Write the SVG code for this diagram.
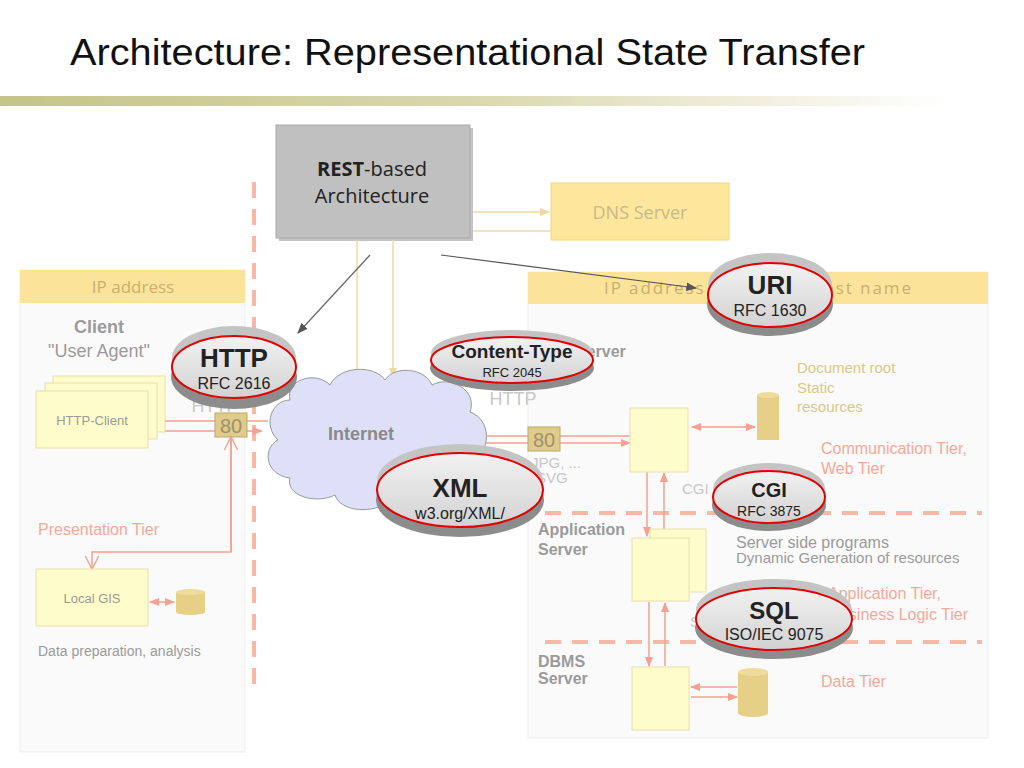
<svg xmlns="http://www.w3.org/2000/svg" width="1024" height="768" viewBox="0 0 1024 768">
<defs>
<linearGradient id="bar" x1="0" x2="1"><stop offset="0" stop-color="#c5c487"/><stop offset="0.5" stop-color="#d9d8ae"/><stop offset="1" stop-color="#ffffff"/></linearGradient>
<linearGradient id="badge" x1="0" y1="0" x2="0" y2="1"><stop offset="0" stop-color="#f2f2f2"/><stop offset="1" stop-color="#d2d2d2"/></linearGradient>
<marker id="ar" viewBox="0 0 10 10" refX="9" refY="5" markerWidth="7" markerHeight="7" orient="auto-start-reverse"><path d="M0,1 L10,5 L0,9 z" fill="#f5a090"/></marker>
<marker id="ao" viewBox="0 0 10 10" refX="9" refY="5" markerWidth="9" markerHeight="9" orient="auto"><path d="M0,0 L10,5 L0,10" fill="none" stroke="#f5a090" stroke-width="1"/></marker>
<marker id="ay" viewBox="0 0 10 10" refX="9" refY="5" markerWidth="7" markerHeight="7" orient="auto"><path d="M0,1 L10,5 L0,9 z" fill="#f0d8a0"/></marker>
<marker id="ag" viewBox="0 0 10 10" refX="9" refY="5" markerWidth="9" markerHeight="9" orient="auto"><path d="M0,1 L10,5 L0,9 z" fill="#555"/></marker>
</defs>
<style>
text{font-family:"Liberation Sans",Arial,sans-serif}
.g{fill:#9a9a9a}
.lg{fill:#c8c8c8}
.tier{fill:#f5a898;font-size:16px}
.box{fill:#fffccc;stroke:#e6e0a8;stroke-width:1}
.cyl{fill:#e6d088}
.pl{stroke:#f5a090;stroke-width:1.5;fill:none}
.yl{stroke:#f0d8a8;stroke-width:1.5;fill:none}
.dash{stroke:#f9b8a6;stroke-width:4;stroke-dasharray:16 11;fill:none}
.hd{fill:#fbe49a}
.hdt{fill:#c8b070;font-size:17px;font-family:"Open Sans",sans-serif}
.b1{fill:#8c8c8c}
.b2{fill:#c4c4c4}
.b3{fill:url(#badge);stroke:#e00000;stroke-width:2}
.bt{fill:#222;font-weight:bold;text-anchor:middle}
.bs{fill:#222;text-anchor:middle}
</style>
<rect width="1024" height="768" fill="#fff"/>
<text x="70" y="65" font-size="36" fill="#111" textLength="795" lengthAdjust="spacingAndGlyphs">Architecture: Representational State Transfer</text>
<rect x="0" y="96" width="950" height="10" fill="url(#bar)"/>

<g id="panels">
<rect x="20" y="270" width="225" height="482" fill="#fafafa" stroke="#eeeeee"/>
<rect x="20" y="270" width="225" height="33" class="hd"/>
<text x="133" y="293" text-anchor="middle" class="hdt">IP address</text>
<rect x="528" y="272" width="460" height="466" fill="#fafafa" stroke="#eeeeee"/>
<rect x="528" y="272" width="460" height="32" class="hd"/>
<text x="604" y="294" class="hdt" textLength="307" lengthAdjust="spacing">IP address / Server / Host name</text>
</g>

<line x1="254" y1="182" x2="254" y2="690" class="dash"/>
<line x1="545" y1="513" x2="982" y2="513" class="dash" stroke-width="3"/>
<line x1="545" y1="642" x2="982" y2="642" class="dash" stroke-width="3"/>

<g id="rest">
<rect x="279" y="128" width="194" height="113" fill="#888" opacity="0.5"/>
<rect x="276" y="125" width="194" height="113" fill="#c0c0c0" stroke="#aaa"/>
<text x="372" y="176" text-anchor="middle" font-size="20" fill="#222" style="font-family:'Open Sans',sans-serif"><tspan font-weight="bold">REST</tspan>-based</text>
<text x="372" y="203" text-anchor="middle" font-size="20" fill="#222" style="font-family:'Open Sans',sans-serif">Architecture</text>
</g>
<g id="dns">
<rect x="551" y="183" width="178" height="57" fill="#fce79c" stroke="#f3d67c"/>
<text x="640" y="219" text-anchor="middle" font-size="18" fill="#c8b98a" style="font-family:'Open Sans',sans-serif">DNS Server</text>
</g>

<g id="connectors">
<line x1="473" y1="212" x2="549" y2="212" class="yl" marker-end="url(#ay)"/>
<line x1="473" y1="231" x2="551" y2="231" class="yl"/>
<line x1="357" y1="240" x2="357" y2="385" class="yl"/>
<line x1="393" y1="240" x2="393" y2="377" class="yl" marker-end="url(#ay)"/>
<line x1="370" y1="255" x2="298" y2="333" stroke="#666" stroke-width="1.2" marker-end="url(#ag)"/>
<line x1="441" y1="255" x2="696" y2="288" stroke="#555" stroke-width="1.2" marker-end="url(#ag)"/>
<line x1="268" y1="421" x2="150" y2="421" class="pl" marker-end="url(#ar)"/>
<line x1="150" y1="431" x2="262" y2="431" class="pl" marker-end="url(#ar)"/>
<polyline points="231,437 231,552 92,552 92,568" class="pl" marker-end="url(#ao)"/>
<line x1="231" y1="552" x2="231" y2="438" class="pl" marker-end="url(#ao)"/>
<line x1="630" y1="436" x2="476" y2="436" class="pl" marker-end="url(#ar)"/>
<line x1="485" y1="443" x2="630" y2="443" class="pl" marker-end="url(#ar)"/>
<line x1="692" y1="427" x2="755" y2="427" class="pl" marker-start="url(#ar)" marker-end="url(#ar)"/>
<line x1="647" y1="472" x2="647" y2="536" class="pl" marker-end="url(#ar)"/>
<line x1="664" y1="537" x2="664" y2="473" class="pl" marker-end="url(#ar)"/>
<line x1="649" y1="602" x2="649" y2="666" class="pl" marker-end="url(#ar)"/>
<line x1="665" y1="666" x2="665" y2="603" class="pl" marker-end="url(#ar)"/>
<line x1="737" y1="687" x2="691" y2="687" class="pl" marker-end="url(#ar)"/>
<line x1="691" y1="697" x2="737" y2="697" class="pl" marker-end="url(#ar)"/>
<line x1="150" y1="602" x2="174" y2="602" class="pl" stroke-width="2" marker-start="url(#ar)" marker-end="url(#ar)"/>
</g>

<g id="client">
<text x="99" y="333" text-anchor="middle" font-size="18" font-weight="bold" class="g">Client</text>
<text x="99" y="357" text-anchor="middle" font-size="18" class="g">"User Agent"</text>
<rect x="53" y="376" width="112" height="56" class="box"/>
<rect x="45" y="383" width="112" height="56" class="box"/>
<rect x="36" y="391" width="112" height="57" class="box"/>
<text x="92" y="425" text-anchor="middle" font-size="13" class="g">HTTP-Client</text>
<text x="215" y="412" text-anchor="middle" font-size="18" class="lg">HTTP</text>
<rect x="215" y="413" width="32" height="24" fill="#e0cc88" stroke="#b8a870"/>
<text x="231" y="433" text-anchor="middle" font-size="20" fill="#a09070">80</text>
<text x="38" y="535" class="tier">Presentation Tier</text>
<rect x="36" y="569" width="112" height="57" class="box"/>
<text x="92" y="603" text-anchor="middle" font-size="13" class="g">Local GIS</text>
<rect x="176" y="592" width="29" height="20" class="cyl"/>
<ellipse cx="190.5" cy="592" rx="14.5" ry="3" fill="#eedc9c"/>
<ellipse cx="190.5" cy="612" rx="14.5" ry="3" class="cyl"/>
<text x="38" y="656" font-size="14" class="g">Data preparation, analysis</text>
</g>

<g id="internet">
<path d="M290,400 C285,380 315,370 330,385 C340,365 375,365 385,380 C395,365 425,368 432,385 C450,375 478,390 470,412 C492,420 490,450 475,460 C488,480 465,500 445,495 C435,515 400,515 390,500 C375,515 340,512 335,495 C315,505 285,495 290,478 C265,475 262,448 278,440 C262,425 272,400 290,400 Z" fill="#dde0f6" stroke="#999" stroke-width="1"/>
<text x="361" y="440" text-anchor="middle" font-size="18" font-weight="bold" fill="#8a8a8a">Internet</text>
</g>

<g id="webserver">
<text x="538" y="357" font-size="16" font-weight="bold" class="g">Web Server</text>
<text x="513" y="405" text-anchor="middle" font-size="18" class="lg">HTTP</text>
<rect x="528" y="427" width="32" height="24" fill="#e0cc88" stroke="#b8a870"/>
<text x="544" y="447" text-anchor="middle" font-size="20" fill="#a09070">80</text>
<text x="531" y="468" font-size="15" class="lg">JPG, ...</text>
<text x="536" y="483" font-size="15" class="lg">SVG</text>
<rect x="630" y="408" width="58" height="64" class="box"/>
<rect x="757" y="395" width="22" height="45" class="cyl"/>
<ellipse cx="768" cy="395" rx="11" ry="3" fill="#eedc9c"/>
<text x="797" y="373" font-size="15" fill="#d9c88a">Document root</text>
<text x="797" y="393" font-size="15" fill="#d9c88a">Static</text>
<text x="797" y="412" font-size="15" fill="#d9c88a">resources</text>
<text x="821" y="454" class="tier">Communication Tier,</text>
<text x="821" y="474" class="tier">Web Tier</text>
<text x="682" y="494" font-size="15" class="lg">CGI</text>
</g>

<g id="appserver">
<text x="538" y="535" font-size="16" font-weight="bold" class="g">Application</text>
<text x="538" y="555" font-size="16" font-weight="bold" class="g">Server</text>
<rect x="650" y="529" width="56" height="63" class="box"/>
<rect x="632" y="538" width="57" height="63" class="box"/>
<text x="736" y="548" font-size="16" class="g">Server side programs</text>
<text x="736" y="563" font-size="15" class="g">Dynamic Generation of resources</text>
<text x="941" y="599" text-anchor="end" class="tier">Application Tier,</text>
<text x="968" y="620" text-anchor="end" class="tier">Business Logic Tier</text>
<text x="690" y="627" font-size="15" class="lg">SQL</text>
</g>

<g id="dbms">
<text x="538" y="667" font-size="16" font-weight="bold" class="g">DBMS</text>
<text x="538" y="684" font-size="16" font-weight="bold" class="g">Server</text>
<rect x="632" y="667" width="57" height="63" class="box"/>
<rect x="738" y="672" width="30" height="41" class="cyl"/>
<ellipse cx="753" cy="672" rx="15" ry="4" fill="#eedc9c"/>
<ellipse cx="753" cy="713" rx="15" ry="4" class="cyl"/>
<text x="821" y="687" class="tier">Data Tier</text>
</g>

<g id="badge-http">
<ellipse cx="234" cy="377" rx="63" ry="32" class="b1"/>
<ellipse cx="234" cy="358" rx="62" ry="32" class="b2"/>
<ellipse cx="234" cy="367" rx="62" ry="31" class="b3"/>
<text x="234" y="367" font-size="26" class="bt">HTTP</text>
<text x="234" y="389" font-size="16" class="bs">RFC 2616</text>
</g>
<g id="badge-content">
<ellipse cx="512" cy="368" rx="82" ry="23" class="b1"/>
<ellipse cx="512" cy="353" rx="81" ry="23" class="b2"/>
<ellipse cx="512" cy="360" rx="81" ry="23" class="b3"/>
<text x="512" y="358" font-size="19" class="bt">Content-Type</text>
<text x="512" y="377" font-size="13" class="bs">RFC 2045</text>
</g>
<g id="badge-uri">
<ellipse cx="770" cy="304" rx="63" ry="32" class="b1"/>
<ellipse cx="770" cy="285" rx="62" ry="32" class="b2"/>
<ellipse cx="770" cy="295" rx="62" ry="32" class="b3"/>
<text x="770" y="294" font-size="26" class="bt">URI</text>
<text x="770" y="316" font-size="16" class="bs">RFC 1630</text>
</g>
<g id="badge-xml">
<ellipse cx="460" cy="500" rx="84" ry="37" class="b1"/>
<ellipse cx="460" cy="481" rx="83" ry="37" class="b2"/>
<ellipse cx="460" cy="490" rx="83" ry="37" class="b3"/>
<text x="460" y="497" font-size="26" class="bt">XML</text>
<text x="460" y="519" font-size="16" class="bs">w3.org/XML/</text>
</g>
<g id="badge-cgi">
<ellipse cx="769" cy="505" rx="57" ry="26" class="b1"/>
<ellipse cx="769" cy="489" rx="56" ry="26" class="b2"/>
<ellipse cx="769" cy="497" rx="56" ry="26" class="b3"/>
<text x="769" y="497" font-size="20" class="bt">CGI</text>
<text x="769" y="516" font-size="14" class="bs">RFC 3875</text>
</g>
<g id="badge-sql">
<ellipse cx="774" cy="628" rx="79" ry="31" class="b1"/>
<ellipse cx="774" cy="610" rx="78" ry="31" class="b2"/>
<ellipse cx="774" cy="619" rx="78" ry="31" class="b3"/>
<text x="774" y="619" font-size="24" class="bt">SQL</text>
<text x="774" y="640" font-size="16" class="bs">ISO/IEC 9075</text>
</g>
</svg>
